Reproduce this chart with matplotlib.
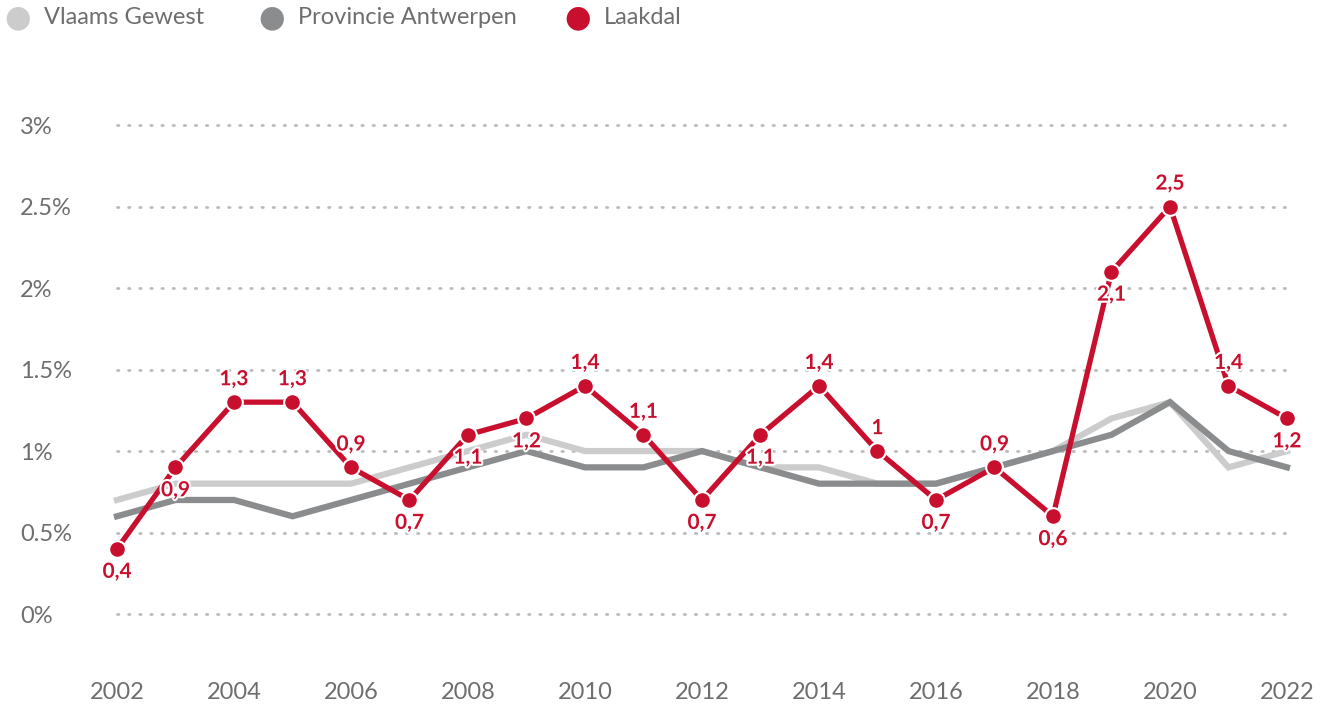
import matplotlib
matplotlib.use('Agg')
import matplotlib.pyplot as plt
import matplotlib.patheffects as pe

years = list(range(2002, 2023))
vlaams = [0.7, 0.8, 0.8, 0.8, 0.8, 0.9, 1.0, 1.1, 1.0, 1.0, 1.0, 0.9, 0.9, 0.8, 0.8, 0.9, 1.0, 1.2, 1.3, 0.9, 1.0]
antwerpen = [0.6, 0.7, 0.7, 0.6, 0.7, 0.8, 0.9, 1.0, 0.9, 0.9, 1.0, 0.9, 0.8, 0.8, 0.8, 0.9, 1.0, 1.1, 1.3, 1.0, 0.9]
laakdal = [0.4, 0.9, 1.3, 1.3, 0.9, 0.7, 1.1, 1.2, 1.4, 1.1, 0.7, 1.1, 1.4, 1.0, 0.7, 0.9, 0.6, 2.1, 2.5, 1.4, 1.2]
# 1 = label above the point, -1 = below
label_side = [-1, -1, 1, 1, 1, -1, -1, -1, 1, 1, -1, -1, 1, 1, -1, 1, -1, -1, 1, 1, -1]
series_names = ['Vlaams Gewest', 'Provincie Antwerpen', 'Laakdal']
yticks = [0, 0.5, 1, 1.5, 2, 2.5, 3]
ytick_labels = ['0%', '0.5%', '1%', '1.5%', '2%', '2.5%', '3%']
xticks = list(range(2002, 2023, 2))

c_light = '#cccccc'
c_dark = '#8a8c8e'
c_red = '#c8102e'
c_text = '#6e6e6e'

plt.rcParams['font.family'] = ['Lato', 'DejaVu Sans']

fig = plt.figure(figsize=(13.3, 7.06), dpi=100)
W, H = 1330, 706
ymin, ymax = -0.3, 3.2
ax = fig.add_axes([117 / W, (H - 663) / H, (1287 - 117) / W, (663 - 92.4) / H])
ax.set_xlim(2002, 2022)
ax.set_ylim(ymin, ymax)

for y in yticks:
    ax.plot([2002, 2022], [y, y], color='#bbbbbb', lw=2, ls=(0, (0.5, 3.5)),
            dash_capstyle='round', zorder=1, clip_on=False)

ax.plot(years, vlaams, color=c_light, lw=4.5, zorder=2, clip_on=False, solid_joinstyle='miter')
ax.plot(years, antwerpen, color=c_dark, lw=4.5, zorder=3, clip_on=False, solid_joinstyle='miter')
ax.plot(years, laakdal, color=c_red, lw=3.8, zorder=4, clip_on=False,
        marker='o', ms=12, mfc=c_red, mec='white', mew=1.5)

for x, v, s in zip(years, laakdal, label_side):
    txt = ('%g' % v).replace('.', ',')
    ax.annotate(txt, (x, v), xytext=(0, 16.5 * s), textcoords='offset points',
                ha='center', va='center', color=c_red, fontsize=15, fontweight='bold',
                zorder=5, path_effects=[pe.withStroke(linewidth=3, foreground='white')],
                annotation_clip=False)

for sp in ax.spines.values():
    sp.set_visible(False)
ax.set_xticks(xticks)
ax.set_xticklabels([str(x) for x in xticks])
ax.set_yticks(yticks)
ax.set_yticklabels(ytick_labels)
ax.tick_params(length=0, labelsize=17, colors=c_text, pad=14)
ax.tick_params(axis='y', pad=0)
for lab in ax.get_yticklabels():
    lab.set_horizontalalignment('left')
    lab.set_x(-97 / 1170)

# legend
leg_items = [(18, c_light, series_names[0]), (272, c_dark, series_names[1]), (578, c_red, series_names[2])]
for px, col, name in leg_items:
    fig.text(px / W, 1 - 18 / H, '\u25cf', color=col, fontsize=22, ha='center', va='center',
             family='DejaVu Sans')
    fig.text((px + 26) / W, 1 - 18 / H, name, color=c_text, fontsize=17, ha='left', va='center')

fig.savefig('out.png', dpi=100)
